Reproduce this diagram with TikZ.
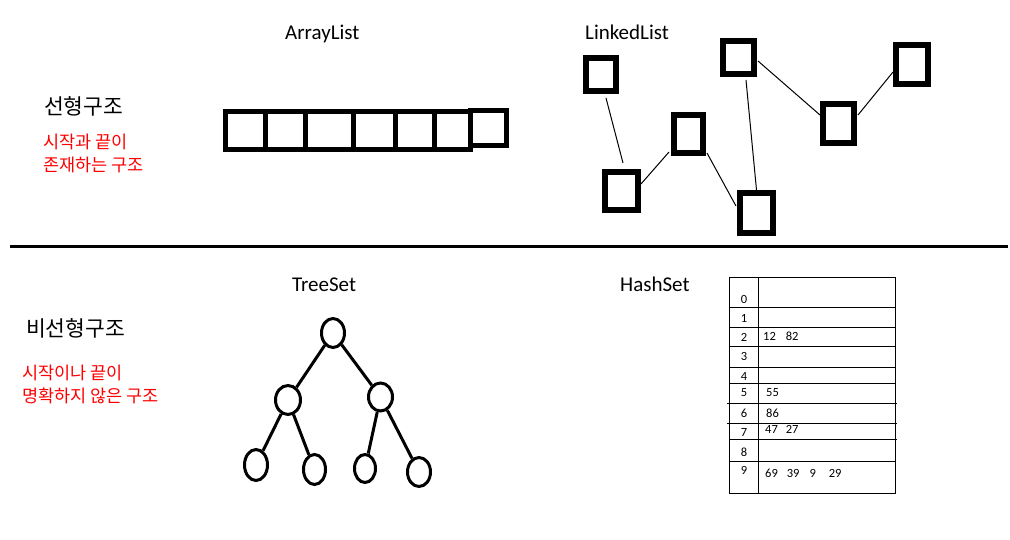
\documentclass[tikz,border=0pt]{standalone}
\usepackage{fontspec}
\setmainfont{Carlito}
\newfontfamily\kofont{Noto Sans CJK KR}
\usetikzlibrary{shapes.geometric}
\tikzset{
  abox/.style={draw, line width=5pt, inner sep=0pt, outer sep=0pt},
  lbox/.style={draw, line width=6pt, inner sep=0pt},
  link/.style={line width=1pt},
  tnode/.style={draw, ellipse, line width=3pt, inner sep=0pt},
  tedge/.style={line width=3pt},
  title/.style={anchor=base west, inner sep=0pt, font=\fontsize{21}{24}\selectfont},
  head/.style={anchor=west, inner sep=0pt, font=\kofont\fontsize{21.5}{24}\selectfont},
  note/.style={anchor=west, inner sep=0pt, text=red, font=\kofont\fontsize{17.5}{20}\selectfont},
  idx/.style={inner sep=0pt, font=\fontsize{12.5}{14}\selectfont},
  val/.style={anchor=west, inner sep=0pt, font=\fontsize{12.5}{14}\selectfont},
  grid/.style={line width=1pt}
}
\begin{document}
\begin{tikzpicture}[x=1pt,y=-1pt]
\useasboundingbox (0,0) rectangle (1010,540);
\fill[white] (0,0) rectangle (1010,540);

% separator
\draw[line width=3pt] (10,247) -- (1008,247);

% left labels
\node[head] (lin) at (44,106.5) {선형구조};
\node[note] (lin1) at (43,142) {시작과 끝이};
\node[note] (lin2) at (43,165) {존재하는 구조};
\node[head] (nlin) at (26,328.5) {비선형구조};
\node[note] (nlin1) at (22,372.5) {시작이나 끝이};
\node[note] (nlin2) at (22,396) {명확하지 않은 구조};

% titles
\node[title] (tarr) at (285,40) {ArrayList};
\node[title] (tlnk) at (585,40) {LinkedList};
\node[title] (ttree) at (292,291) {TreeSet};
\node[title] (thash) at (620,291) {HashSet};

% ArrayList
\node[abox, minimum width=39.5pt, minimum height=38pt] (a1) at (245.25,130.5) {};
\node[abox, minimum width=40pt, minimum height=38pt] (a2) at (285,130.5) {};
\node[abox, minimum width=48pt, minimum height=38pt] (a3) at (329,130.5) {};
\node[abox, minimum width=42pt, minimum height=38pt] (a4) at (374,130.5) {};
\node[abox, minimum width=39pt, minimum height=38pt] (a5) at (414.5,130.5) {};
\node[abox, minimum width=36pt, minimum height=38pt] (a6) at (452,130.5) {};
\node[abox, minimum width=36.5pt, minimum height=35pt] (a7) at (488.25,128) {};

% LinkedList
\node[lbox, minimum width=30pt, minimum height=33pt] (b1) at (601,74.5) {};
\node[lbox, minimum width=33pt, minimum height=38pt] (b2) at (621.5,191) {};
\node[lbox, minimum width=29pt, minimum height=38pt] (b3) at (688.5,134) {};
\node[lbox, minimum width=31pt, minimum height=33pt] (b4) at (738.5,57.5) {};
\node[lbox, minimum width=33pt, minimum height=40pt] (b5) at (756.5,213) {};
\node[lbox, minimum width=31pt, minimum height=39pt] (b6) at (838.5,123.5) {};
\node[lbox, minimum width=32pt, minimum height=39pt] (b7) at (912,64.5) {};

\draw[link] ([shift={(5,4)}]b1.south) -- ([shift={(1.5,-6)}]b2.north);
\draw[link] ([shift={(0,-7)}]b2.east) -- ([shift={(-2,-4)}]b3.south west);
\draw[link] ([shift={(1,-3)}]b3.south east) -- ([shift={(-1,-7)}]b5.west);
\draw[link] ([shift={(7.5,3)}]b4.south) -- (b5.north);
\draw[link] ([shift={(1,3.5)}]b4.east) -- ([shift={(0,-8.5)}]b6.west);
\draw[link] ([shift={(1,-8.5)}]b6.east) -- ([shift={(0,7.5)}]b7.west);

% TreeSet
\node[tnode, minimum width=23pt, minimum height=29pt] (r) at (333,333) {};
\node[tnode, minimum width=25pt, minimum height=29pt] (l) at (288,400) {};
\node[tnode, minimum width=24pt, minimum height=28pt] (rr) at (380.5,397) {};
\node[tnode, minimum width=23pt, minimum height=31pt] (ll1) at (256,465) {};
\node[tnode, minimum width=22pt, minimum height=30pt] (ll2) at (314.5,469.5) {};
\node[tnode, minimum width=21pt, minimum height=28pt] (rl1) at (365,468.5) {};
\node[tnode, minimum width=23pt, minimum height=29pt] (rl2) at (419,472) {};
\draw[tedge] (r) -- (l);
\draw[tedge] (r) -- (rr);
\draw[tedge] (l) -- (ll1);
\draw[tedge] (l) -- (ll2);
\draw[tedge] (rr) -- (rl1);
\draw[tedge] (rr) -- (rl2);

% HashSet table
\draw[grid] (729,278) rectangle (895.5,493);
\draw[grid] (758,278) -- (758,493);
\foreach \yy in {308,327,346,367,383,461} \draw[grid] (729,\yy) -- (895.5,\yy);
\draw[grid] (727,403) -- (897,403);
\draw[grid] (727,423) -- (897,423);
\draw[grid] (729,439) -- (897,439);

\node[idx] (i0) at (744,299) {0};
\node[idx] (i1) at (744,318) {1};
\node[idx] (i2) at (744,337) {2};
\node[idx] (i3) at (744,356) {3};
\node[idx] (i4) at (744,376) {4};
\node[idx] (i5) at (744,393) {5};
\node[idx] (i6) at (744,413) {6};
\node[idx] (i7) at (744,432) {7};
\node[idx] (i8) at (744,452) {8};
\node[idx] (i9) at (744,470) {9};

\node[val] (v2) at (763,336) {12\hspace{10pt}82};
\node[val] (v5) at (766,393) {55};
\node[val] (v6) at (766,413) {86};
\node[val] (v7) at (765,429) {47\hspace{8pt}27};
\node[val] (v9) at (765,473) {69\hspace{9pt}39\hspace{10pt}9\hspace{13pt}29};
\end{tikzpicture}
\end{document}
